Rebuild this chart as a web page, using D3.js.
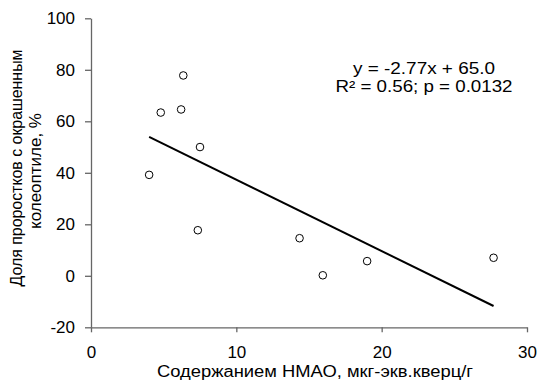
<!DOCTYPE html>
<html>
<head>
<meta charset="utf-8">
<script src="https://cdn.jsdelivr.net/npm/d3@7"></script>
<style>
  body { margin: 0; background: #fff; }
  svg text { font-family: "Liberation Sans", Arial, sans-serif; fill: #000; }
</style>
</head>
<body>
<div id="chart"></div>
<script>
// measured points
var hmao = [4.0, 4.8, 6.2, 6.35, 7.5, 7.35, 14.35, 15.95, 19.0, 27.7];
var share = [39.2, 63.4, 64.6, 77.8, 50.0, 17.7, 14.6, 0.2, 5.7, 7.0];
var xTicks = [0, 10, 20, 30];
var yTicks = [-20, 0, 20, 40, 60, 80, 100];
var slope = -2.77, intercept = 65.0;

var width = 539, height = 380;

var svg = d3.select("#chart").append("svg")
    .attr("width", width)
    .attr("height", height);

var x = d3.scaleLinear().domain([0, 30]).range([91, 527]);
var y = d3.scaleLinear().domain([-20, 100]).range([327.3, 18.3]);

var data = hmao.map(function (d, i) { return { x: d, y: share[i] }; });

// plain hyphen for negatives, like the original
var fmt = function (d) { return String(d); };

var yaxis = svg.append("g")
    .attr("transform", "translate(" + x(0) + ",0)")
    .call(d3.axisLeft(y).tickValues(yTicks).tickFormat(fmt).tickSize(6).tickSizeOuter(0).tickPadding(10));

var xaxis = svg.append("g")
    .attr("transform", "translate(0," + y(-20) + ")")
    .call(d3.axisBottom(x).tickValues(xTicks).tickFormat(fmt).tickSize(5).tickSizeOuter(0).tickPadding(14));

[xaxis, yaxis].forEach(function (a) {
    a.select(".domain").attr("stroke", "#666").attr("stroke-width", 1.3);
    a.selectAll("line").attr("stroke", "#666").attr("stroke-width", 1.3);
    a.selectAll("text").attr("font-size", 17).attr("fill", "#000")
        .attr("font-family", "Liberation Sans, Arial, sans-serif");
});

// trend line
var xmin = d3.min(hmao), xmax = d3.max(hmao);
svg.append("line")
    .attr("x1", x(xmin)).attr("y1", y(slope * xmin + intercept))
    .attr("x2", x(xmax)).attr("y2", y(slope * xmax + intercept))
    .attr("stroke", "#000")
    .attr("stroke-width", 2);

// points
svg.selectAll(".dot")
    .data(data)
    .enter().append("circle")
    .attr("class", "dot")
    .attr("cx", function (d) { return x(d.x); })
    .attr("cy", function (d) { return y(d.y); })
    .attr("r", 3.8)
    .attr("fill", "#fff")
    .attr("stroke", "#000")
    .attr("stroke-width", 1);

// equation
svg.append("text")
    .attr("x", 424).attr("y", 74)
    .attr("text-anchor", "middle")
    .attr("font-size", 16)
    .attr("textLength", 142).attr("lengthAdjust", "spacingAndGlyphs")
    .text("y = -2.77x + 65.0");
svg.append("text")
    .attr("x", 424).attr("y", 92)
    .attr("text-anchor", "middle")
    .attr("font-size", 16)
    .attr("textLength", 177).attr("lengthAdjust", "spacingAndGlyphs")
    .text("R² = 0.56; p = 0.0132");

// axis titles
svg.append("text")
    .attr("x", 315)
    .attr("y", 377)
    .attr("text-anchor", "middle")
    .attr("font-size", 16)
    .attr("textLength", 316).attr("lengthAdjust", "spacingAndGlyphs")
    .text("Содержанием НМАО, мкг-экв.кверц/г");

svg.append("text")
    .attr("transform", "translate(22,168) rotate(-90)")
    .attr("text-anchor", "middle")
    .attr("font-size", 17)
    .attr("textLength", 237).attr("lengthAdjust", "spacingAndGlyphs")
    .text("Доля проростков с окрашенным");
svg.append("text")
    .attr("transform", "translate(41,171) rotate(-90)")
    .attr("text-anchor", "middle")
    .attr("font-size", 17)
    .text("колеоптиле, %");
</script>
</body>
</html>
